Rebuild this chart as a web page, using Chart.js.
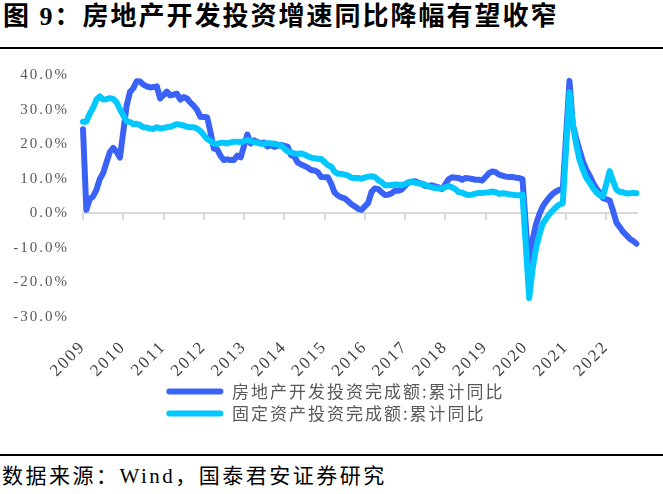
<!DOCTYPE html>
<html>
<head>
<meta charset="utf-8">
<script src="https://cdn.jsdelivr.net/npm/chart.js@4.4.1/dist/chart.umd.min.js"></script>
<style>
html, body { margin: 0; padding: 0; background: #fff; }
body { width: 663px; height: 494px; position: relative; overflow: hidden;
       font-family: "Liberation Serif", "Noto Sans CJK SC", serif; }
#title { position: absolute; left: 3px; top: 2px; font-size: 26px; font-weight: bold;
         letter-spacing: 2px; color: #000; white-space: nowrap; line-height: 30px; }
#titleRule { position: absolute; left: 0; top: 47px; width: 663px; height: 2px; background: #000; }
#wrap { position: absolute; left: 0; top: 52px; width: 663px; height: 392px; }
#footRule { position: absolute; left: 0; top: 454px; width: 663px; height: 2px; background: #000; }
#source { position: absolute; left: 2px; top: 462px; font-size: 21px; letter-spacing: 2.5px;
          line-height: 28px; color: #000; white-space: nowrap; }
</style>
</head>
<body>
<div id="title">图 9：房地产开发投资增速同比降幅有望收窄</div>
<div id="titleRule"></div>
<div id="wrap"><canvas id="chart" width="663" height="392"></canvas></div>
<div id="footRule"></div>
<div id="source">数据来源：Wind，国泰君安证券研究</div>
<script>
// monthly data, Jan 2009 .. Oct 2022 (January mostly not published)
const years = [2009, 2010, 2011, 2012, 2013, 2014, 2015, 2016, 2017, 2018, 2019, 2020, 2021, 2022];
const lastMonth = 10;
const yTicks = [-30, -20, -10, 0, 10, 20, 30, 40];
const seriesNames = ['房地产开发投资完成额:累计同比', '固定资产投资完成额:累计同比'];

const realEstate = [
  24.3, 1.0, 4.1, 4.9, 6.8, 9.9, 11.6, 14.7, 17.7, 18.9, 17.8, 16.1,
  null, 31.1, 35.1, 36.2, 38.2, 38.1, 37.2, 36.7, 36.4, 36.5, 36.7, 33.2,
  null, 35.2, 34.1, 34.3, 34.6, 32.9, 33.6, 33.2, 32.0, 31.1, 29.9, 27.9,
  null, 27.8, 23.5, 18.7, 18.5, 16.6, 15.4, 15.6, 15.4, 15.4, 16.7, 16.2,
  null, 22.8, 20.2, 21.1, 20.6, 20.3, 20.5, 19.3, 19.7, 19.2, 19.5, 19.8,
  null, 19.3, 16.8, 16.4, 14.7, 14.1, 13.7, 13.2, 12.5, 12.4, 11.9, 10.5,
  null, 10.4, 8.5, 6.0, 5.1, 4.6, 4.3, 3.5, 2.6, 2.0, 1.3, 1.0,
  null, 3.0, 6.2, 7.2, 7.0, 6.1, 5.3, 5.4, 5.8, 6.6, 6.5, 6.9,
  null, 8.9, 9.1, 9.3, 8.8, 8.5, 7.9, 7.9, 8.1, 7.8, 7.5, 7.0,
  null, 9.9, 10.4, 10.3, 10.2, 9.7, 10.2, 10.1, 9.9, 9.7, 9.7, 9.5,
  null, 11.6, 12.1, 11.9, 11.2, 10.9, 10.6, 10.5, 10.5, 10.3, 10.2, 9.9,
  null, -17.5, -7.7, -3.3, -0.3, 1.9, 3.4, 4.6, 5.6, 6.3, 6.8, 7.0,
  null, 38.3, 25.6, 21.6, 18.3, 15.0, 12.7, 10.9, 8.8, 7.2, 6.0, 4.4,
  null, 3.7, 0.7, -2.7, -4.0, -5.4, -6.4, -7.4, -8.0, -8.8
];

const fixedAsset = [
  26.5, 26.5, 28.8, 30.5, 32.9, 33.8, 32.9, 33.0, 33.3, 33.1, 32.1, 30.1,
  null, 26.6, 26.4, 25.8, 25.9, 25.5, 24.9, 24.8, 24.5, 24.4, 24.9, 24.5,
  null, 24.9, 25.0, 25.4, 25.8, 25.6, 25.4, 25.0, 24.9, 24.9, 24.5, 23.8,
  null, 21.5, 20.9, 20.2, 20.1, 20.4, 20.4, 20.2, 20.5, 20.7, 20.7, 20.6,
  null, 21.2, 20.9, 20.6, 20.4, 20.1, 20.1, 20.3, 20.2, 20.1, 19.9, 19.6,
  null, 17.9, 17.6, 17.3, 17.2, 17.3, 17.0, 16.5, 16.1, 15.9, 15.8, 15.7,
  null, 13.9, 13.5, 12.0, 11.4, 11.4, 11.2, 10.9, 10.3, 10.2, 10.2, 10.0,
  null, 10.6, 10.7, 10.5, 9.6, 9.0, 8.1, 8.1, 8.2, 8.3, 8.3, 8.1,
  null, 8.9, 9.2, 8.9, 8.6, 8.6, 8.3, 7.8, 7.5, 7.3, 7.2, 7.2,
  null, 7.9, 7.5, 7.0, 6.1, 6.0, 5.5, 5.3, 5.4, 5.7, 5.9, 5.9,
  null, 6.1, 6.3, 6.1, 5.6, 5.8, 5.7, 5.5, 5.4, 5.2, 5.2, 5.4,
  null, -24.5, -16.1, -10.3, -6.3, -3.1, -1.6, -0.3, 0.8, 1.8, 2.6, 2.9,
  null, 35.0, 25.6, 19.9, 15.4, 12.6, 10.3, 8.9, 7.3, 6.1, 5.2, 4.9,
  null, 12.2, 9.3, 6.8, 6.2, 6.1, 5.7, 5.8, 5.9, 5.8
];

const labels = [];
years.forEach((y, i) => {
  const n = i === years.length - 1 ? lastMonth : 12;
  for (let m = 1; m <= n; m++) labels.push(y + '-' + String(m).padStart(2, '0'));
});

const blue = '#3A62F7';
const cyan = '#00C8FF';
const axisGray = '#D9D9D9';

// canvas text gets a little tracking, like the original
const tracking = {
  id: 'tracking',
  beforeLayout(chart) { chart.ctx.letterSpacing = '2px'; },
  beforeDraw(chart) { chart.ctx.letterSpacing = '2px'; }
};

// legend: both rows start at the same x, block centred a bit right of the canvas centre
const legendRows = {
  id: 'legendRows',
  afterLayout(chart) {
    const lg = chart.legend;
    if (!lg || !lg.lineWidths) return;
    lg.lineWidths.fill(Math.max(...lg.lineWidths));
    lg.left = 34;
  }
};

new Chart(document.getElementById('chart'), {
  type: 'line',
  data: {
    labels: labels,
    datasets: [{
      label: seriesNames[0],
      data: realEstate,
      borderColor: blue,
      backgroundColor: blue,
      borderWidth: 6,
      order: 1
    }, {
      label: seriesNames[1],
      data: fixedAsset,
      borderColor: cyan,
      backgroundColor: cyan,
      borderWidth: 6,
      order: 0
    }]
  },
  options: {
    responsive: false,
    animation: false,
    spanGaps: true,
    elements: {
      point: { radius: 0 },
      line: { tension: 0, borderJoinStyle: 'round', borderCapStyle: 'round' }
    },
    layout: { padding: { left: 0, right: 26, top: 16, bottom: 12 } },
    plugins: {
      tooltip: { enabled: false },
      legend: {
        position: 'bottom',
        labels: {
          boxWidth: 57,
          boxHeight: 6,
          useBorderRadius: true,
          borderRadius: 3,
          padding: 5,
          color: '#595959',
          font: { family: '"Noto Sans CJK SC"', size: 17 },
          sort: (a, b) => a.datasetIndex - b.datasetIndex,
          generateLabels: chart => Chart.defaults.plugins.legend.labels.generateLabels(chart)
            .map(item => Object.assign(item, { lineWidth: 0 }))
        }
      }
    },
    scales: {
      x: {
        type: 'category',
        position: 'bottom',
        afterFit: s => { s.height = 61; },
        grid: { display: false },
        border: { display: false },
        ticks: {
          autoSkip: false,
          minRotation: 45,
          maxRotation: 45,
          padding: 12,
          color: '#404040',
          font: { family: '"Liberation Serif"', size: 17 },
          callback: function (v, i) {
            return i % 12 === 0 ? this.getLabelForValue(v).slice(0, 4) : '';
          }
        }
      },
      x0: {
        type: 'category',
        position: { y: 0 },
        grid: {
          drawOnChartArea: false,
          drawTicks: true,
          tickLength: 6,
          lineWidth: 2,
          color: ctx => (ctx.index % 12 === 0 ? axisGray : 'rgba(0,0,0,0)')
        },
        border: { display: true, color: axisGray, width: 2 },
        ticks: { display: false, autoSkip: false }
      },
      y: {
        min: -30,
        max: 40,
        afterBuildTicks: s => { s.ticks = yTicks.map(v => ({ value: v })); },
        afterFit: s => { s.width = 83; },
        grid: { display: false, drawTicks: false },
        border: { display: false },
        ticks: {
          padding: 14,
          color: '#595959',
          font: { family: '"Liberation Serif"', size: 15 },
          callback: v => v.toFixed(1) + '%'
        }
      }
    }
  },
  plugins: [tracking, legendRows]
});
</script>
</body>
</html>
